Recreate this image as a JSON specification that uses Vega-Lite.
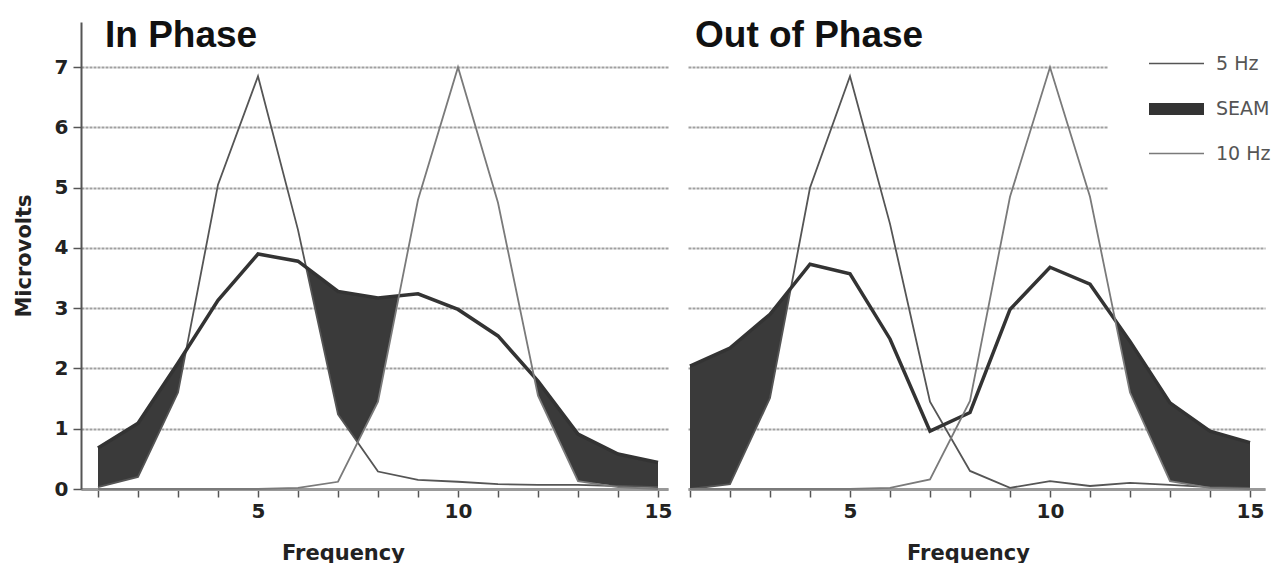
{
  "$schema": "https://vega.github.io/schema/vega-lite/v6.json",
  "background": "white",
  "padding": {"left": 13, "top": 17, "right": 0, "bottom": 0},
  "spacing": 20,
  "bounds": "flush",
  "config": {
    "view": {"stroke": null},
    "font": "DejaVu Sans",
    "axis": {
      "labelFont": "DejaVu Sans",
      "labelFontSize": 20,
      "labelFontWeight": "bold",
      "labelColor": "#222",
      "titleFont": "DejaVu Sans",
      "titleFontSize": 21,
      "titleFontWeight": "bold",
      "titleColor": "#222",
      "gridColor": "#a0a0a0",
      "gridWidth": 2,
      "gridDash": [3, 1],
      "tickColor": "#555",
      "tickWidth": 1.5,
      "tickSize": 8
    }
  },
  "datasets": {
    "lines": [
      {"panel": "In", "freq": 1, "5 Hz": 0.03, "SEAM": 0.68, "10 Hz": 0},
      {"panel": "In", "freq": 2, "5 Hz": 0.2, "SEAM": 1.09, "10 Hz": 0},
      {"panel": "In", "freq": 3, "5 Hz": 1.6, "SEAM": 2.09, "10 Hz": 0},
      {"panel": "In", "freq": 4, "5 Hz": 5.05, "SEAM": 3.13, "10 Hz": 0},
      {"panel": "In", "freq": 5, "5 Hz": 6.85, "SEAM": 3.9, "10 Hz": 0},
      {"panel": "In", "freq": 6, "5 Hz": 4.3, "SEAM": 3.78, "10 Hz": 0.02},
      {"panel": "In", "freq": 7, "5 Hz": 1.24, "SEAM": 3.28, "10 Hz": 0.12},
      {"panel": "In", "freq": 8, "5 Hz": 0.29, "SEAM": 3.17, "10 Hz": 1.45},
      {"panel": "In", "freq": 9, "5 Hz": 0.15, "SEAM": 3.24, "10 Hz": 4.8},
      {"panel": "In", "freq": 10, "5 Hz": 0.12, "SEAM": 2.98, "10 Hz": 7.0},
      {"panel": "In", "freq": 11, "5 Hz": 0.08, "SEAM": 2.54, "10 Hz": 4.75},
      {"panel": "In", "freq": 12, "5 Hz": 0.07, "SEAM": 1.79, "10 Hz": 1.55},
      {"panel": "In", "freq": 13, "5 Hz": 0.07, "SEAM": 0.91, "10 Hz": 0.13},
      {"panel": "In", "freq": 14, "5 Hz": 0.05, "SEAM": 0.58, "10 Hz": 0.03},
      {"panel": "In", "freq": 15, "5 Hz": 0.03, "SEAM": 0.44, "10 Hz": 0},
      {"panel": "Out", "freq": 1, "5 Hz": 0.0, "SEAM": 2.04, "10 Hz": 0},
      {"panel": "Out", "freq": 2, "5 Hz": 0.08, "SEAM": 2.34, "10 Hz": 0},
      {"panel": "Out", "freq": 3, "5 Hz": 1.51, "SEAM": 2.9, "10 Hz": 0},
      {"panel": "Out", "freq": 4, "5 Hz": 5.0, "SEAM": 3.73, "10 Hz": 0},
      {"panel": "Out", "freq": 5, "5 Hz": 6.85, "SEAM": 3.57, "10 Hz": 0},
      {"panel": "Out", "freq": 6, "5 Hz": 4.4, "SEAM": 2.49, "10 Hz": 0.02},
      {"panel": "Out", "freq": 7, "5 Hz": 1.45, "SEAM": 0.96, "10 Hz": 0.16},
      {"panel": "Out", "freq": 8, "5 Hz": 0.3, "SEAM": 1.27, "10 Hz": 1.46},
      {"panel": "Out", "freq": 9, "5 Hz": 0.02, "SEAM": 2.98, "10 Hz": 4.85},
      {"panel": "Out", "freq": 10, "5 Hz": 0.13, "SEAM": 3.68, "10 Hz": 7.0},
      {"panel": "Out", "freq": 11, "5 Hz": 0.05, "SEAM": 3.4, "10 Hz": 4.85},
      {"panel": "Out", "freq": 12, "5 Hz": 0.1, "SEAM": 2.45, "10 Hz": 1.6},
      {"panel": "Out", "freq": 13, "5 Hz": 0.07, "SEAM": 1.43, "10 Hz": 0.13},
      {"panel": "Out", "freq": 14, "5 Hz": 0.03, "SEAM": 0.96, "10 Hz": 0.02},
      {"panel": "Out", "freq": 15, "5 Hz": 0.02, "SEAM": 0.77, "10 Hz": 0}
    ],
    "fill": [
      {"panel": "In", "seg": "a", "freq": 1, "value": 0.68, "bottom": 0.03},
      {"panel": "In", "seg": "a", "freq": 2, "value": 1.09, "bottom": 0.2},
      {"panel": "In", "seg": "a", "freq": 3, "value": 2.09, "bottom": 1.6},
      {"panel": "In", "seg": "a", "freq": 3.2, "value": 2.3, "bottom": 2.3},
      {"panel": "In", "seg": "b", "freq": 6.2, "value": 3.68, "bottom": 3.68},
      {"panel": "In", "seg": "b", "freq": 7, "value": 3.28, "bottom": 1.24},
      {"panel": "In", "seg": "b", "freq": 7.49, "value": 3.23, "bottom": 0.77},
      {"panel": "In", "seg": "b", "freq": 8, "value": 3.17, "bottom": 1.45},
      {"panel": "In", "seg": "b", "freq": 8.52, "value": 3.21, "bottom": 3.21},
      {"panel": "In", "seg": "c", "freq": 11.9, "value": 1.86, "bottom": 1.86},
      {"panel": "In", "seg": "c", "freq": 12, "value": 1.79, "bottom": 1.55},
      {"panel": "In", "seg": "c", "freq": 13, "value": 0.91, "bottom": 0.13},
      {"panel": "In", "seg": "c", "freq": 14, "value": 0.58, "bottom": 0.05},
      {"panel": "In", "seg": "c", "freq": 15, "value": 0.44, "bottom": 0.03},
      {"panel": "Out", "seg": "a", "freq": 1, "value": 2.04, "bottom": 0.0},
      {"panel": "Out", "seg": "a", "freq": 2, "value": 2.34, "bottom": 0.08},
      {"panel": "Out", "seg": "a", "freq": 3, "value": 2.9, "bottom": 1.51},
      {"panel": "Out", "seg": "a", "freq": 3.52, "value": 3.34, "bottom": 3.34},
      {"panel": "Out", "seg": "b", "freq": 11.63, "value": 2.8, "bottom": 2.8},
      {"panel": "Out", "seg": "b", "freq": 12, "value": 2.45, "bottom": 1.6},
      {"panel": "Out", "seg": "b", "freq": 13, "value": 1.43, "bottom": 0.13},
      {"panel": "Out", "seg": "b", "freq": 14, "value": 0.96, "bottom": 0.03},
      {"panel": "Out", "seg": "b", "freq": 15, "value": 0.77, "bottom": 0.02}
    ]
  },
  "resolve": {"scale": {"color": "independent"}, "legend": {"color": "independent"}},
  "hconcat": [
    {
      "width": 587,
      "height": 467,
      "title": {"text": "In Phase", "anchor": "start", "frame": "group", "dx": 24, "offset": -62, "baseline": "alphabetic", "fontSize": 37, "font": "Liberation Sans", "fontWeight": "bold", "color": "#111"},
      "encoding": {
        "x": {"field": "freq", "type": "quantitative", "scale": {"domain": [0.575, 15.25], "nice": false, "zero": false},
              "axis": {"title": "Frequency", "values": [1,2,3,4,5,6,7,8,9,10,11,12,13,14,15], "labelExpr": "datum.value % 5 === 0 ? datum.label : ''", "grid": false, "domainColor": "#999", "domainWidth": 3, "labelPadding": 4, "titleX": 262, "titleY": 70, "titleBaseline": "alphabetic", "titleAlign": "center"}},
        "y": {"field": "value", "type": "quantitative", "scale": {"domain": [0, 7.75], "nice": false},
              "axis": {"title": "Microvolts", "values": [0,1,2,3,4,5,6,7], "grid": true, "domainColor": "#555", "domainWidth": 2, "labelPadding": 5, "titlePadding": 20}}
      },
      "layer": [
        {
          "data": {"name": "fill"},
          "transform": [{"filter": "datum.panel === 'In'"}],
          "mark": {"type": "area", "color": "#3a3a3a", "interpolate": "linear", "opacity": 1},
          "encoding": {"y2": {"field": "bottom"}, "detail": {"field": "seg", "type": "nominal"}}
        },
        {
          "data": {"name": "lines"},
          "transform": [{"filter": "datum.panel === 'In'"}, {"fold": ["5 Hz", "SEAM", "10 Hz"], "as": ["series", "value"]}],
          "mark": {"type": "line", "interpolate": "linear"},
          "encoding": {
            "color": {"field": "series", "type": "nominal", "scale": {"domain": ["5 Hz", "SEAM", "10 Hz"], "range": ["#555555", "#333333", "#7a7a7a"]}, "legend": null},
            "strokeWidth": {"condition": {"test": "datum.series === 'SEAM'", "value": 3.5}, "value": 1.8},
            "order": {"field": "freq", "type": "quantitative"}
          }
        }
      ]
    },
    {
      "width": 577,
      "height": 467,
      "title": {"text": "Out of Phase", "anchor": "start", "frame": "group", "dx": 7, "offset": -62, "baseline": "alphabetic", "fontSize": 37, "font": "Liberation Sans", "fontWeight": "bold", "color": "#111"},
      "encoding": {
        "x": {"field": "freq", "type": "quantitative", "scale": {"domain": [0.95, 15.375], "nice": false, "zero": false},
              "axis": {"title": "Frequency", "values": [1,2,3,4,5,6,7,8,9,10,11,12,13,14,15], "labelExpr": "datum.value % 5 === 0 ? datum.label : ''", "grid": false, "domainColor": "#999", "domainWidth": 3, "labelPadding": 4, "titleX": 280, "titleY": 70, "titleBaseline": "alphabetic", "titleAlign": "center"}},
        "y": {"field": "value", "type": "quantitative", "scale": {"domain": [0, 7.75], "nice": false},
              "axis": {"title": null, "values": [0,1,2,3,4,5,6,7], "grid": true, "domain": false, "ticks": false, "labels": false}}
      },
      "layer": [
        {
          "data": {"name": "fill"},
          "transform": [{"filter": "datum.panel === 'Out'"}],
          "mark": {"type": "area", "color": "#3a3a3a", "interpolate": "linear", "opacity": 1},
          "encoding": {"y2": {"field": "bottom"}, "detail": {"field": "seg", "type": "nominal"}}
        },
        {
          "data": {"name": "lines"},
          "transform": [{"filter": "datum.panel === 'Out'"}, {"fold": ["5 Hz", "SEAM", "10 Hz"], "as": ["series", "value"]}],
          "mark": {"type": "line", "interpolate": "linear"},
          "encoding": {
            "color": {"field": "series", "type": "nominal", "scale": {"domain": ["5 Hz", "SEAM", "10 Hz"], "range": ["#555555", "#333333", "#7a7a7a"]},
              "legend": {"orient": "none", "legendX": 420, "legendY": 24, "title": " ", "titleOrient": "bottom", "titleFontSize": 20, "titlePadding": 8, "symbolType": "stroke", "symbolSize": 3025, "symbolStrokeWidth": 1.5, "symbolOffset": 51, "labelFontSize": 19, "labelFont": "DejaVu Sans", "labelColor": "#555", "labelOffset": 30, "rowPadding": 10.5, "padding": 8, "fillColor": "white",
                "encode": {"symbols": {"update": {"strokeWidth": {"signal": "datum.value === 'SEAM' ? 12 : 1.5"}, "strokeCap": {"value": "butt"}}}}}},
            "strokeWidth": {"condition": {"test": "datum.series === 'SEAM'", "value": 3.5}, "value": 1.8},
            "order": {"field": "freq", "type": "quantitative"}
          }
        }
      ]
    }
  ]
}
